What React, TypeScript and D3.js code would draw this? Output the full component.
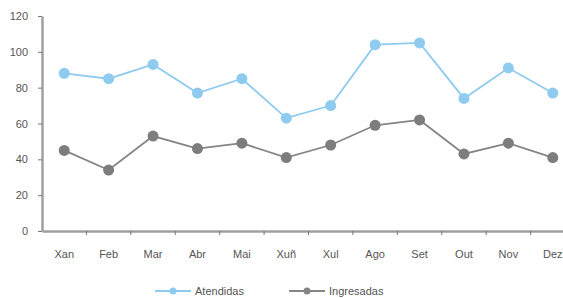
import React, { useEffect, useRef } from 'react'
import * as d3 from 'd3'

const months = ['Xan', 'Feb', 'Mar', 'Abr', 'Mai', 'Xuñ', 'Xul', 'Ago', 'Set', 'Out', 'Nov', 'Dez']
const atendidas = [88, 85, 93, 77, 85, 63, 70, 104, 105, 74, 91, 77]
const ingresadas = [45, 34, 53, 46, 49, 41, 48, 59, 62, 43, 49, 41]
const yTicks = [0, 20, 40, 60, 80, 100, 120]

const W = 563
const H = 298
const BLUE = '#8fcbee'
const GRAY = '#858585'

const App: React.FC = () => {
  const ref = useRef<SVGSVGElement>(null)

  useEffect(() => {
    const svg = d3.select(ref.current)
    svg.selectAll('*').remove()
    const font = '"Liberation Sans", Arial, sans-serif'

    const x = d3.scaleBand().domain(months).range([42, 575])
    const y = d3.scaleLinear().domain([0, 120]).range([231, 16])

    // y axis
    const ya = svg.append('g').attr('transform', 'translate(42,0)')
      .call(d3.axisLeft(y).tickValues(yTicks).tickSize(4).tickSizeOuter(0))
    ya.select('.domain').attr('stroke', '#a0a0a0').attr('stroke-width', 2.5)
    ya.selectAll('.tick line').attr('stroke', '#777')
    ya.selectAll('.tick text').attr('x', -14).attr('fill', '#555')
      .style('font-family', font).style('font-size', '11px')

    // x axis
    const xa = svg.append('g').attr('transform', 'translate(0,231)')
      .call(d3.axisBottom(x).tickSize(0).tickPadding(19))
    xa.select('.domain').attr('stroke', '#a0a0a0').attr('stroke-width', 2.5)
    xa.selectAll('.tick text').attr('fill', '#555')
      .style('font-family', font).style('font-size', '11px')
    xa.selectAll('.tickmark')
      .data(months)
      .enter()
      .append('line')
      .attr('x1', (d) => x(d)! + x.bandwidth())
      .attr('x2', (d) => x(d)! + x.bandwidth())
      .attr('y1', 0)
      .attr('y2', 4)
      .attr('stroke', '#777')

    const cx = (d: string) => x(d)! + x.bandwidth() / 2
    const series = [
      { vals: atendidas, color: BLUE, dot: BLUE },
      { vals: ingresadas, color: GRAY, dot: '#7d7d7d' },
    ]
    series.forEach((s) => {
      const line = d3.line<number>().x((_, i) => cx(months[i])).y((v) => y(v))
      svg.append('path').attr('d', line(s.vals)).attr('fill', 'none')
        .attr('stroke', s.color).attr('stroke-width', 1.8)
      svg.append('g').selectAll('circle').data(s.vals).enter().append('circle')
        .attr('cx', (_, i) => cx(months[i])).attr('cy', (v) => y(v))
        .attr('r', 5.5).attr('fill', s.dot)
    })

    // legend
    const legend = [
      { name: 'Atendidas', color: BLUE, x0: 155 },
      { name: 'Ingresadas', color: GRAY, x0: 289 },
    ]
    legend.forEach((l) => {
      const g = svg.append('g').attr('transform', `translate(${l.x0},291)`)
      g.append('line').attr('x1', 0).attr('x2', 36).attr('stroke', l.color).attr('stroke-width', 1.8)
      g.append('circle').attr('cx', 18).attr('r', 3.5).attr('fill', l.color)
      g.append('text').attr('x', 40).attr('dy', '0.35em').text(l.name)
        .attr('fill', '#555').style('font-family', font).style('font-size', '11px')
    })
  }, [])

  return (
    <svg
      ref={ref}
      width={W}
      height={H}
      style={{ position: 'absolute', left: 0, top: 0, background: '#fff' }}
    />
  )
}

export default App
